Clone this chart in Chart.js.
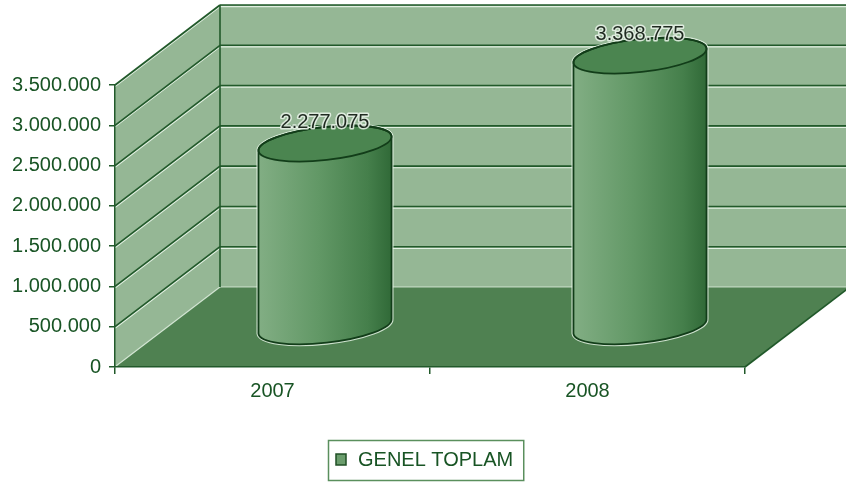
<!DOCTYPE html>
<html>
<head>
<meta charset="utf-8">
<title>Genel Toplam</title>
<script src="https://cdn.jsdelivr.net/npm/chart.js@4.4.1/dist/chart.umd.min.js"></script>
<style>
    html, body { margin: 0; background: #fff; }
    #wrap { width: 846px; height: 483px; }
</style>
</head>
<body>
<div id="wrap"><canvas id="toplamChart"></canvas></div>
<script>
const years = ['2007', '2008'];
const totals = [2277075, 3368775];
const seriesName = 'GENEL TOPLAM';
const yMax = 3500000;
const yStep = 500000;

const TEXT_GREEN = '#185424';
const LINE_GREEN = '#21592a';
const WALL = '#95b795';
const FLOOR = '#4f8151';
const FONT = '"Liberation Sans", Arial, sans-serif';

// depth of the 3d box, in pixels
const DEPTH_X = 105;
const DEPTH_Y = -80;

function dotted(n) {
    return String(Math.round(n)).replace(/\B(?=(\d{3})+(?!\d))/g, '.');
}

function seg(ctx, x1, y1, x2, y2) {
    ctx.beginPath();
    ctx.moveTo(x1, y1);
    ctx.lineTo(x2, y2);
    ctx.stroke();
}

// walls and floor behind the bars
const box3d = {
    id: 'box3d',
    beforeDraw(chart) {
        const ctx = chart.ctx;
        const { left, right, top, bottom } = chart.chartArea;
        const y = chart.scales.y;
        ctx.save();

        ctx.fillStyle = WALL;
        ctx.fillRect(left + DEPTH_X, top + DEPTH_Y, right - left, bottom - top);
        ctx.beginPath();
        ctx.moveTo(left, top);
        ctx.lineTo(left + DEPTH_X, top + DEPTH_Y);
        ctx.lineTo(left + DEPTH_X, bottom + DEPTH_Y);
        ctx.lineTo(left, bottom);
        ctx.closePath();
        ctx.fill();

        y.ticks.forEach(t => {
            if (t.value === 0) return;
            const py = y.getPixelForValue(t.value);
            ctx.strokeStyle = 'rgba(240,250,240,0.85)';
            ctx.lineWidth = 1.2;
            seg(ctx, left, py + 1.6, left + DEPTH_X, py + DEPTH_Y + 1.6);
            seg(ctx, left + DEPTH_X, py + DEPTH_Y + 1.6, right + DEPTH_X + 10, py + DEPTH_Y + 1.6);
            ctx.strokeStyle = LINE_GREEN;
            ctx.lineWidth = 1.6;
            seg(ctx, left, py, left + DEPTH_X, py + DEPTH_Y);
            seg(ctx, left + DEPTH_X, py + DEPTH_Y, right + DEPTH_X + 10, py + DEPTH_Y);
        });

        // floor
        ctx.fillStyle = FLOOR;
        ctx.beginPath();
        ctx.moveTo(left, bottom);
        ctx.lineTo(right, bottom);
        ctx.lineTo(right + DEPTH_X, bottom + DEPTH_Y);
        ctx.lineTo(left + DEPTH_X, bottom + DEPTH_Y);
        ctx.closePath();
        ctx.fill();

        ctx.strokeStyle = 'rgba(225,240,225,0.8)';
        ctx.lineWidth = 1.2;
        seg(ctx, left + 1, bottom - 1, left + DEPTH_X, bottom + DEPTH_Y);
        seg(ctx, left + DEPTH_X, bottom + DEPTH_Y, right + DEPTH_X + 10, bottom + DEPTH_Y);

        ctx.strokeStyle = LINE_GREEN;
        ctx.lineWidth = 1.6;
        seg(ctx, right, bottom, right + DEPTH_X, bottom + DEPTH_Y);
        seg(ctx, left + DEPTH_X, top + DEPTH_Y, left + DEPTH_X, bottom + DEPTH_Y);
        ctx.restore();
    }
};

// bars drawn as cylinders standing in the middle of the box depth
const cylinders = {
    id: 'cylinders',
    beforeDatasetDraw() {
        return false;
    },
    afterDatasetsDraw(chart) {
        const ctx = chart.ctx;
        const meta = chart.getDatasetMeta(0);
        const values = chart.data.datasets[0].data;
        const ry = 16.5;
        const tilt = -0.11;
        meta.data.forEach((bar, i) => {
            const cx = bar.x + DEPTH_X / 2;
            const top = bar.y + DEPTH_Y / 2;
            const base = bar.base + DEPTH_Y / 2;
            const rx = bar.width / 2;
            const ex = rx * Math.cos(tilt);
            const ey = rx * Math.sin(tilt);

            const body = new Path2D();
            body.moveTo(cx - ex, top - ey);
            body.lineTo(cx - ex, base - ey);
            body.ellipse(cx, base, rx, ry, tilt, Math.PI, 0, true);
            body.lineTo(cx + ex, top + ey);
            body.ellipse(cx, top, rx, ry, tilt, 0, Math.PI, true);
            body.closePath();

            const grad = ctx.createLinearGradient(cx - rx, 0, cx + rx, 0);
            grad.addColorStop(0, '#82ae84');
            grad.addColorStop(0.45, '#629866');
            grad.addColorStop(0.82, '#457f4b');
            grad.addColorStop(1, '#306937');

            const cap = new Path2D();
            cap.ellipse(cx, top, rx, ry, tilt, 0, Math.PI * 2);

            ctx.save();
            ctx.strokeStyle = 'rgba(235,248,235,0.8)';
            ctx.lineWidth = 4;
            ctx.stroke(body);
            ctx.fillStyle = grad;
            ctx.fill(body);
            ctx.fillStyle = '#4b8550';
            ctx.fill(cap);
            ctx.strokeStyle = '#123d19';
            ctx.lineWidth = 1.8;
            ctx.stroke(body);
            ctx.stroke(cap);

            ctx.font = '20px ' + FONT;
            ctx.textAlign = 'center';
            ctx.textBaseline = 'middle';
            ctx.lineJoin = 'round';
            ctx.strokeStyle = 'rgba(235,245,235,0.85)';
            ctx.lineWidth = 3;
            const label = dotted(values[i]);
            ctx.strokeText(label, cx, top - 21);
            ctx.fillStyle = '#1f2a20';
            ctx.fillText(label, cx, top - 21);
            ctx.restore();
        });
    }
};

// legend with a frame, under the axis
const framedLegend = {
    id: 'framedLegend',
    afterDraw(chart) {
        const ctx = chart.ctx;
        const ds = chart.data.datasets[0];
        ctx.save();
        ctx.font = '20px ' + FONT;
        const tw = ctx.measureText(ds.label).width;
        const boxW = tw + 40;
        const bx = Math.round(chart.width / 2 + 3 - boxW / 2);
        const by = 440;
        ctx.strokeStyle = '#5a8f5d';
        ctx.lineWidth = 1.5;
        ctx.strokeRect(bx + 0.5, by + 0.5, boxW, 40);
        ctx.fillStyle = '#6b9d6d';
        ctx.fillRect(bx + 8, by + 14, 10, 11);
        ctx.strokeStyle = '#1f4f25';
        ctx.lineWidth = 1.5;
        ctx.strokeRect(bx + 8, by + 14, 10, 11);
        ctx.fillStyle = TEXT_GREEN;
        ctx.textBaseline = 'middle';
        ctx.fillText(ds.label, bx + 30, by + 20);
        ctx.restore();
    }
};

new Chart(document.getElementById('toplamChart'), {
    type: 'bar',
    data: {
        labels: years,
        datasets: [{
            label: seriesName,
            data: totals,
            backgroundColor: '#629866',
            categoryPercentage: 1,
            barPercentage: 0.425
        }]
    },
    options: {
        responsive: true,
        maintainAspectRatio: false,
        animation: false,
        layout: { padding: { top: 85, right: 101, bottom: 0, left: 0 } },
        plugins: {
            legend: { display: false },
            tooltip: { enabled: false }
        },
        scales: {
            x: {
                afterFit(scale) { scale.height = 116; },
                grid: {
                    drawOnChartArea: false,
                    color: LINE_GREEN,
                    tickLength: 7,
                    lineWidth: 1.5
                },
                border: { color: LINE_GREEN, width: 1.5 },
                ticks: {
                    color: TEXT_GREEN,
                    font: { family: FONT, size: 20 },
                    padding: 5
                }
            },
            y: {
                min: 0,
                max: yMax,
                afterFit(scale) { scale.width = 115; },
                grid: {
                    drawOnChartArea: false,
                    color: LINE_GREEN,
                    tickLength: 6,
                    lineWidth: 1.5
                },
                border: { color: LINE_GREEN, width: 1.5 },
                ticks: {
                    stepSize: yStep,
                    color: TEXT_GREEN,
                    font: { family: FONT, size: 20 },
                    padding: 8,
                    callback: v => dotted(v)
                }
            }
        }
    },
    plugins: [box3d, cylinders, framedLegend]
});
</script>
</body>
</html>
